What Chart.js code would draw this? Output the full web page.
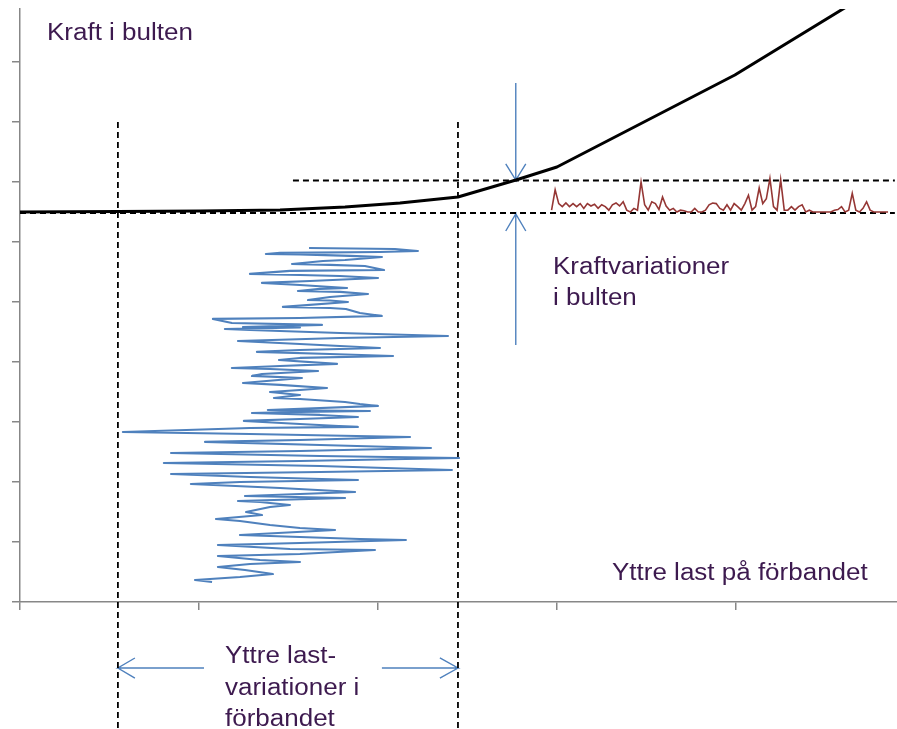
<!DOCTYPE html>
<html>
<head>
<meta charset="utf-8">
<script src="https://cdn.jsdelivr.net/npm/chart.js@4.4.1/dist/chart.umd.min.js"></script>
<style>
html,body{margin:0;padding:0;background:#fff;}
#wrap{width:897px;height:729px;position:relative;}
</style>
</head>
<body>
<div id="wrap"><canvas id="c" width="897" height="729"></canvas></div>
<script>
// ---- Data (axis units: x = yttre last, y = kraft i bulten) ----
const xTicks = [0, 10, 20, 30, 40];
const yTicks = [0, 10, 20, 30, 40, 50, 60, 70, 80, 90];

// Bolt force vs external load (black curve)
const boltLoad  = [0, 5.47, 10.06, 14.53, 18.16, 21.23, 24.47, 27.71, 30.0, 39.94, 47.26];
const boltForce = [65.0, 65.08, 65.17, 65.33, 65.83, 66.5, 67.5, 70.33, 72.5, 87.83, 101.17];

// External load variations (blue trace): load value and time (plotted downward)
const loadValue = [16.15, 20.95, 22.23, 20.11, 14.53, 13.74, 15.64, 18.44, 20.22, 18.16, 16.93, 15.20, 17.32, 19.27, 20.34, 15.08, 12.85, 15.64, 17.88, 20.0,
  16.20, 13.52, 15.64, 18.27, 16.76, 15.53, 17.88, 19.44, 17.32, 16.09, 17.32, 18.32, 14.69, 17.32, 18.21, 18.99, 20.22, 15.64, 10.78, 11.84,
  16.87, 12.46, 15.64, 11.45, 12.85, 17.88, 23.91, 17.88, 12.18, 15.64, 20.11, 15.64, 13.24, 17.32, 20.84, 15.64, 14.47, 17.71, 14.53, 11.84,
  13.97, 16.65, 13.52, 12.96, 15.75, 12.46, 14.53, 17.15, 15.64, 13.97, 15.64, 14.19, 15.64, 18.16, 18.99, 20.0, 13.85, 19.55, 15.64, 12.96,
  16.76, 18.88, 15.64, 12.51, 15.64, 18.88, 12.85, 5.75, 12.85, 21.79, 15.64, 10.34, 16.76, 22.96, 15.64, 8.44, 16.76, 24.53, 15.64, 8.04,
  16.76, 24.13, 16.76, 8.44, 12.85, 18.88, 12.29, 9.55, 14.53, 18.72, 15.64, 12.57, 18.16, 12.18, 13.41, 15.08, 13.97, 12.63, 13.52, 10.95,
  12.29, 13.97, 15.64, 17.6, 12.29, 15.64, 18.99, 21.56, 15.64, 11.06, 15.08, 19.83, 15.64, 11.06, 13.41, 15.64, 12.85, 11.06, 12.57, 14.13,
  12.29, 9.78, 10.73];
const loadTime  = [59.0, 58.83, 58.5, 58.33, 58.17, 58.0, 57.92, 57.67, 57.5, 57.0, 56.83, 56.33, 56.17, 56.0, 55.33, 55.17, 54.67, 54.5, 54.33, 54.0,
  53.5, 53.17, 52.83, 52.33, 52.17, 51.83, 51.67, 51.33, 50.83, 50.33, 50.25, 50.0, 49.17, 49.0, 48.83, 48.17, 47.67, 47.33, 47.17, 46.5,
  46.17, 45.83, 45.75, 45.5, 45.33, 44.83, 44.33, 44.0, 43.5, 43.0, 42.33, 42.0, 41.67, 41.33, 41.0, 40.67, 40.33, 39.67, 39.33, 39.0,
  38.83, 38.5, 38.0, 37.67, 37.33, 36.5, 36.17, 35.67, 35.33, 35.0, 34.5, 34.0, 33.83, 33.33, 33.0, 32.67, 32.0, 31.83, 31.67, 31.5,
  31.17, 30.83, 30.5, 30.17, 29.67, 29.17, 29.0, 28.33, 28.0, 27.5, 27.0, 26.67, 26.17, 25.67, 25.17, 24.83, 24.33, 24.0, 23.5, 23.17,
  22.67, 22.0, 21.67, 21.33, 20.83, 20.33, 20.0, 19.67, 19.0, 18.33, 18.0, 17.67, 17.33, 16.83, 16.67, 16.17, 15.83, 15.0, 14.5, 13.83,
  13.5, 12.83, 12.33, 12.0, 11.17, 10.83, 10.5, 10.33, 9.83, 9.5, 8.83, 8.67, 8.0, 7.67, 7.0, 6.67, 6.33, 5.83, 5.33, 4.67,
  4.17, 3.67, 3.33];

// Force variations in the bolt (red trace), sampled along the load axis
const forceStart = 29.7;
const forceStep = 0.2;
const forceVar = [65.3, 68.7, 66.4, 65.9, 66.5, 65.9, 66.4, 65.9, 66.4, 65.6, 66.4, 66.0, 66.3, 65.6, 66.2, 65.9, 65.3, 66.2, 66.5, 66.0, 66.7, 65.3, 65.0, 65.6, 65.3, 70.0, 66.2, 65.3, 66.7, 66.4, 65.4, 67.5, 66.0, 65.3, 65.6, 65.0, 65.3, 65.2, 65.0, 65.0, 65.6, 65.0, 65.0, 65.3, 66.2, 66.5, 66.4, 65.6, 65.3, 66.2, 65.3, 66.4, 65.9, 65.3, 66.4, 67.8, 65.3, 65.9, 69.0, 66.4, 67.2, 70.6, 65.9, 65.3, 70.4, 65.3, 65.3, 65.9, 65.3, 65.9, 66.2, 65.0, 65.3, 65.0, 65.0, 65.0, 65.0, 65.0, 65.0, 65.3, 65.4, 65.9, 65.0, 65.3, 68.1, 65.3, 65.0, 65.6, 66.7, 65.3, 65.0, 65.0, 65.0, 65.0, 65.0];

// Reference levels / limits
const loadMin = 5.47, loadMax = 24.47;
const forceLow = 64.83, forceHigh = 70.25;
const arrowX = 27.7;

// ---- Build datasets ----
const pts = (xs, ys) => xs.map((x, i) => ({x: x, y: ys[i]}));
const boltData = pts(boltLoad, boltForce);
const loadData = pts(loadValue, loadTime);
const forceData = forceVar.map((v, i) => ({x: forceStart + i * forceStep, y: v}));

const dashCol = '#000000';
const blue = '#4f81bd';
const red = '#953735';

function lineDs(data, color, width, extra) {
  return Object.assign({data: data, showLine: true, borderColor: color, backgroundColor: color,
    borderWidth: width, pointRadius: 0, pointHoverRadius: 0, fill: false, tension: 0}, extra || {});
}

const datasets = [
  lineDs(boltData, '#000000', 3, {label: 'Kraft i bulten', borderCapStyle: 'round', borderJoinStyle: 'round'}),
  lineDs(forceData, red, 1.6, {label: 'Kraftvariationer'}),
  lineDs(loadData, blue, 2.2, {label: 'Yttre lastvariationer', borderJoinStyle: 'round'}),
  // dashed reference lines
  lineDs([{x: loadMin, y: 80}, {x: loadMin, y: -21.2}], dashCol, 1.8, {borderDash: [6, 4], clip: false}),
  lineDs([{x: loadMax, y: 80}, {x: loadMax, y: -21.2}], dashCol, 1.8, {borderDash: [6, 4], clip: false}),
  lineDs([{x: 15.25, y: forceHigh}, {x: 48.88, y: forceHigh}], dashCol, 1.8, {borderDash: [6, 4]}),
  lineDs([{x: 0, y: forceLow}, {x: 48.88, y: forceLow}], dashCol, 1.8, {borderDash: [6, 4]}),
  // arrows (tail, tip, wing, tip, wing)
  lineDs([{x: arrowX, y: 86.5}, {x: arrowX, y: 70.33}, {x: arrowX - 0.56, y: 73.0}, {x: arrowX, y: 70.33}, {x: arrowX + 0.56, y: 73.0}], blue, 1.4, {clip: false}),
  lineDs([{x: arrowX, y: 42.83}, {x: arrowX, y: 64.67}, {x: arrowX - 0.56, y: 61.83}, {x: arrowX, y: 64.67}, {x: arrowX + 0.56, y: 61.83}], blue, 1.4, {clip: false}),
  lineDs([{x: 10.28, y: -11.0}, {x: loadMin, y: -11.0}, {x: 6.42, y: -9.33}, {x: loadMin, y: -11.0}, {x: 6.42, y: -12.67}], blue, 1.4, {clip: false}),
  lineDs([{x: 20.22, y: -11.0}, {x: loadMax, y: -11.0}, {x: 23.46, y: -9.33}, {x: loadMax, y: -11.0}, {x: 23.46, y: -12.67}], blue, 1.4, {clip: false})
];

// ---- Text labels ----
const textColor = '#3d1a4f';
const labels = [
  {t: 'Kraft i bulten', x: 47, y: 40},
  {t: 'Kraftvariationer', x: 553, y: 274},
  {t: 'i bulten', x: 553, y: 305},
  {t: 'Yttre last på förbandet', x: 612, y: 580},
  {t: 'Yttre last-', x: 225, y: 663},
  {t: 'variationer i', x: 225, y: 695},
  {t: 'förbandet', x: 225, y: 726}
];
const labelPlugin = {
  id: 'labelPlugin',
  afterDraw(chart) {
    const ctx = chart.ctx;
    ctx.save();
    ctx.font = '23px "Liberation Sans", Arial, sans-serif';
    ctx.fillStyle = textColor;
    ctx.textBaseline = 'alphabetic';
    labels.forEach(l => {
      ctx.save();
      ctx.translate(l.x, l.y);
      ctx.scale(1.13, 1);
      ctx.fillText(l.t, 0, 0);
      ctx.restore();
    });
    ctx.restore();
  }
};
const bgPlugin = {
  id: 'bg',
  beforeDraw(chart) {
    const ctx = chart.ctx;
    ctx.save(); ctx.fillStyle = '#ffffff'; ctx.fillRect(0, 0, chart.width, chart.height); ctx.restore();
  }
};

const axisCol = '#878787';
new Chart(document.getElementById('c'), {
  type: 'scatter',
  data: {datasets: datasets},
  plugins: [bgPlugin, labelPlugin],
  options: {
    responsive: false,
    animation: false,
    events: [],
    layout: {padding: {top: 9, left: 0, right: 0, bottom: 0}},
    plugins: {legend: {display: false}, tooltip: {enabled: false}},
    scales: {
      x: {
        type: 'linear', min: 0, max: 49,
        afterBuildTicks: s => { s.ticks = xTicks.map(v => ({value: v})); },
        afterFit: s => { s.height = 127; },
        ticks: {display: false},
        grid: {display: true, drawOnChartArea: false, drawTicks: true, tickLength: 8, color: axisCol, lineWidth: 1.5},
        border: {display: true, color: axisCol, width: 1.5}
      },
      y: {
        type: 'linear', min: 0, max: 98.83,
        afterBuildTicks: s => { s.ticks = yTicks.map(v => ({value: v})); },
        afterFit: s => { s.width = 20; },
        ticks: {display: false},
        grid: {display: true, drawOnChartArea: false, drawTicks: true, tickLength: 8, color: axisCol, lineWidth: 1.5},
        border: {display: true, color: axisCol, width: 1.5}
      }
    }
  }
});
</script>
</body>
</html>
